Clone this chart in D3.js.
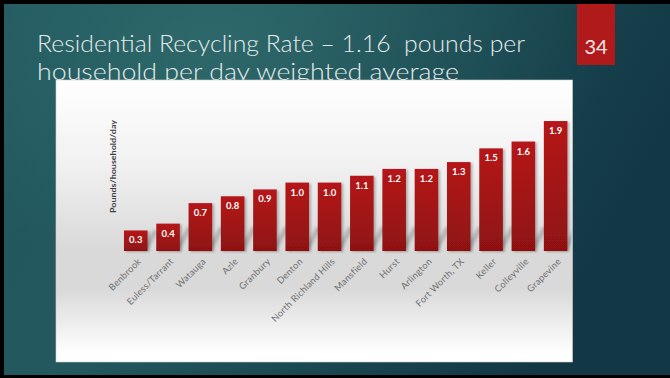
<!DOCTYPE html>
<html>
<head>
<meta charset="utf-8">
<script src="https://cdn.jsdelivr.net/npm/d3@7"></script>
<style>
  html, body { margin: 0; padding: 0; background: #000; }
  svg { display: block; }
</style>
</head>
<body>
<svg id="slide" width="670" height="378"></svg>
<script>
// Residential recycling rate by city (pounds per household per day)
const cities = ["Benbrook", "Euless/Tarrant", "Watauga", "Azle", "Granbury", "Denton",
  "North Richland Hills", "Mansfield", "Hurst", "Arlington", "Fort Worth, TX",
  "Keller", "Colleyville", "Grapevine"];
const rates = [0.3, 0.4, 0.7, 0.8, 0.9, 1.0, 1.0, 1.1, 1.2, 1.2, 1.3, 1.5, 1.6, 1.9];
const titleLines = ["Residential Recycling Rate \u2013 1.16  pounds per",
  "household per day weighted average"];
const yTitle = "Pounds/household/day";
const slideNumber = "34";

const svg = d3.select("#slide");
const defs = svg.append("defs");

// slide background
const bg = defs.append("linearGradient").attr("id", "bgGrad")
  .attr("x1", "0").attr("y1", "0").attr("x2", "1").attr("y2", "0.3");
bg.append("stop").attr("offset", "0").attr("stop-color", "#1f555c");
bg.append("stop").attr("offset", "0.35").attr("stop-color", "#23595e");
bg.append("stop").attr("offset", "1").attr("stop-color", "#123845");
const glow = defs.append("radialGradient").attr("id", "glow")
  .attr("cx", "0.3").attr("cy", "0.1").attr("r", "0.6");
glow.append("stop").attr("offset", "0").attr("stop-color", "#3a7a78").attr("stop-opacity", 0.45);
glow.append("stop").attr("offset", "1").attr("stop-color", "#3a7a78").attr("stop-opacity", 0);

svg.append("rect").attr("width", 670).attr("height", 378).attr("fill", "#000");
svg.append("rect").attr("x", 4).attr("y", 4).attr("width", 666).attr("height", 371).attr("fill", "url(#bgGrad)");
svg.append("rect").attr("x", 4).attr("y", 4).attr("width", 666).attr("height", 371).attr("fill", "url(#glow)");

// slide number tab
svg.append("rect").attr("x", 577).attr("y", 4).attr("width", 38).attr("height", 61).attr("fill", "#b01a1a");
svg.append("text").attr("x", 596).attr("y", 54).attr("text-anchor", "middle")
  .attr("font-family", "Lato, 'Open Sans', sans-serif").attr("font-size", 20)
  .attr("fill", "#f3e6e6").text(slideNumber);

// title
const titleWidths = [488, 422];
svg.append("g").selectAll("text").data(titleLines).join("text")
  .attr("x", 37).attr("y", (d, i) => 52 + i * 28)
  .style("white-space", "pre")
  .attr("font-family", "Lato, 'Open Sans', sans-serif").attr("font-weight", 300)
  .attr("font-size", 23).attr("fill", "#e4eaea")
  .attr("textLength", (d, i) => titleWidths[i]).attr("lengthAdjust", "spacingAndGlyphs")
  .text(d => d);

// chart panel
const panel = { x: 56, y: 80, w: 516.5, h: 282 };
const pg = defs.append("linearGradient").attr("id", "panelGrad")
  .attr("x1", "0").attr("y1", "0").attr("x2", "0").attr("y2", "1");
[["0", "#ffffff"], ["0.3", "#f1f1f1"], ["0.6", "#d9d9d9"], ["0.74", "#d9d9d9"], ["0.97", "#ffffff"]]
  .forEach(([o, c]) => pg.append("stop").attr("offset", o).attr("stop-color", c));
svg.append("rect").attr("x", panel.x).attr("y", panel.y).attr("width", panel.w).attr("height", panel.h)
  .attr("fill", "url(#panelGrad)").attr("stroke", "#d0d0d0").attr("stroke-width", 0.6);
defs.append("clipPath").attr("id", "panelClip").append("rect")
  .attr("x", panel.x).attr("y", panel.y).attr("width", panel.w - 1).attr("height", panel.h);

// scales
const baseY = 251;
const x = d3.scaleBand().domain(cities).range([119.6, 571.8]).paddingInner(0.27).paddingOuter(0.135);
const y = d3.scaleLinear().domain([0, 2]).range([baseY, baseY - 136.8]);

// bar fills and shadows
const barGrad = defs.append("linearGradient").attr("id", "barGrad")
  .attr("x1", "0").attr("y1", "0").attr("x2", "0").attr("y2", "1");
barGrad.append("stop").attr("offset", "0").attr("stop-color", "#b5191a");
barGrad.append("stop").attr("offset", "1").attr("stop-color", "#8f1111");
defs.append("filter").attr("id", "soft").attr("x", "-50%").attr("y", "-50%").attr("width", "200%").attr("height", "200%")
  .append("feGaussianBlur").attr("stdDeviation", 1.8);
const ds = defs.append("filter").attr("id", "drop").attr("x", "-30%").attr("y", "-10%").attr("width", "160%").attr("height", "130%");
ds.append("feDropShadow").attr("dx", 2).attr("dy", 1).attr("stdDeviation", 1.2)
  .attr("flood-color", "#000").attr("flood-opacity", 0.25);

const data = cities.map((c, i) => ({ city: c, value: rates[i] }));
const bw = x.bandwidth();

// cast shadows slanting up-right from each bar's base
svg.append("g").attr("clip-path", "url(#panelClip)")
  .selectAll("path").data(data).join("path")
  .attr("d", d => {
    const l = x(d.city), r = l + bw, h = Math.min(24, baseY - y(d.value));
    return `M${r - 6},${baseY - 1} L${r},${baseY - 1} L${r + h * 0.55},${baseY - h} L${r - 6 + h * 0.55},${baseY - h} Z`;
  })
  .attr("fill", "#8a8a8a").attr("opacity", 0.5).attr("filter", "url(#soft)");

svg.append("g").selectAll("rect").data(data).join("rect")
  .attr("x", d => x(d.city)).attr("y", d => y(d.value))
  .attr("width", bw).attr("height", d => baseY - y(d.value))
  .attr("fill", "url(#barGrad)").attr("filter", "url(#drop)");

// value labels
svg.append("g").selectAll("text").data(data).join("text")
  .attr("x", d => x(d.city) + bw / 2).attr("y", d => y(d.value) + 13)
  .attr("text-anchor", "middle")
  .attr("font-family", "Lato, 'Open Sans', sans-serif").attr("font-weight", 700)
  .attr("font-size", 9.5).attr("fill", "#ffffff")
  .text(d => d3.format(".1f")(d.value));

// category axis (rotated labels, no line or ticks)
const xAxis = svg.append("g").attr("transform", `translate(0,${baseY})`)
  .call(d3.axisBottom(x).tickSize(0).tickPadding(0));
xAxis.select(".domain").remove();
xAxis.selectAll("text")
  .attr("font-family", "Lato, 'Open Sans', sans-serif").attr("font-size", 9.2)
  .attr("letter-spacing", 0.25)
  .attr("fill", "#707070").attr("text-anchor", "end").attr("dy", null).attr("y", 0)
  .attr("transform", "translate(6,11) rotate(-45)");

// value axis title
svg.append("text")
  .attr("transform", "translate(116,166.5) rotate(-90)").attr("text-anchor", "middle")
  .attr("font-family", "Lato, 'Open Sans', sans-serif").attr("font-weight", 700)
  .attr("font-size", 8).attr("fill", "#3f3f3f")
  .attr("textLength", 93).attr("lengthAdjust", "spacingAndGlyphs")
  .text(yTitle);
</script>
</body>
</html>
